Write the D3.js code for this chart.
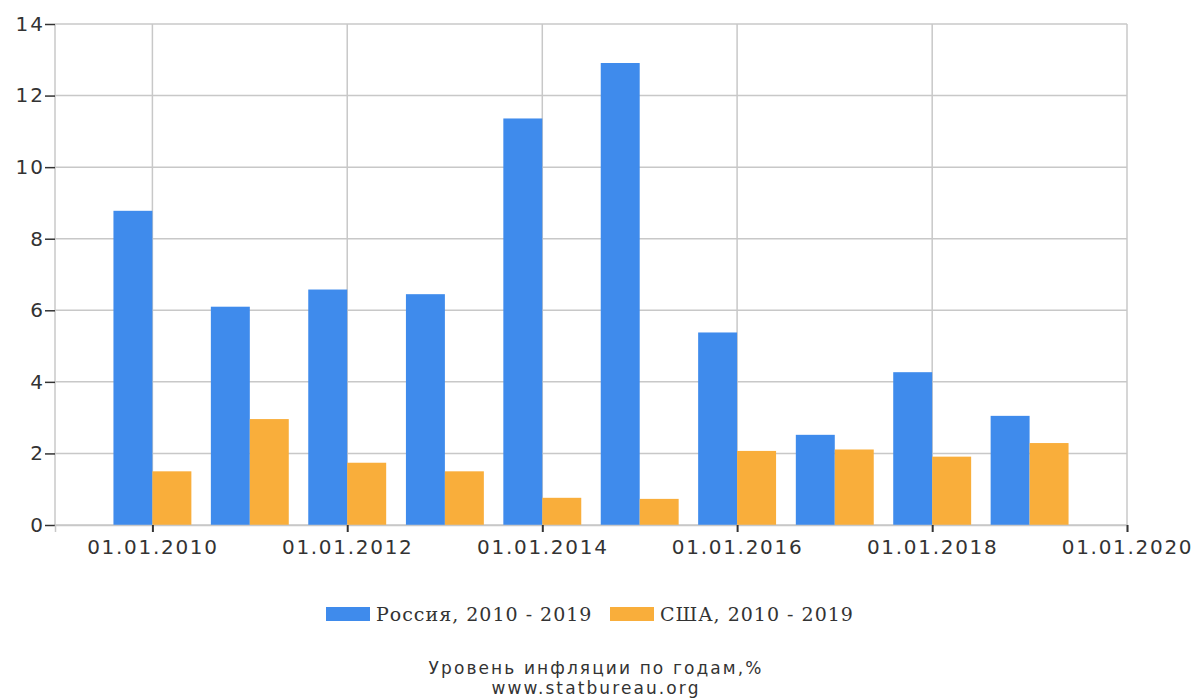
<!DOCTYPE html>
<html>
<head>
<meta charset="utf-8">
<script src="https://cdn.jsdelivr.net/npm/d3@7"></script>
<style>
  body { margin: 0; background: #fff; }
  text { font-family: "DejaVu Sans", sans-serif; fill: #333; }
</style>
</head>
<body>
<svg id="chart" width="1193" height="698"></svg>
<script>
const years = [2010, 2011, 2012, 2013, 2014, 2015, 2016, 2017, 2018, 2019];
const russia = [8.78, 6.10, 6.58, 6.45, 11.36, 12.91, 5.38, 2.52, 4.27, 3.05];
const usa = [1.50, 2.96, 1.74, 1.50, 0.76, 0.73, 2.07, 2.11, 1.91, 2.29];
const yTicks = [0, 2, 4, 6, 8, 10, 12, 14];
const xTickYears = [2010, 2012, 2014, 2016, 2018, 2020];
const seriesNames = ["Россия, 2010 - 2019", "США, 2010 - 2019"];
const colors = ["#3f8bec", "#f9ae3b"];

const svg = d3.select("#chart");
const margin = { top: 24, left: 55, right: 66, bottom: 173 };
const width = +svg.attr("width");
const height = +svg.attr("height");
const innerW = width - margin.left - margin.right;
const innerH = height - margin.top - margin.bottom;

const g = svg.append("g").attr("transform", `translate(${margin.left},${margin.top})`);

const x = d3.scaleTime()
  .domain([new Date(2009, 0, 1), new Date(2020, 0, 1)])
  .range([0, innerW]);
const y = d3.scaleLinear().domain([0, 14]).range([innerH, 0]);

// grid
g.selectAll(".hgrid").data(yTicks).join("line")
  .attr("x1", 0).attr("x2", innerW)
  .attr("y1", d => y(d)).attr("y2", d => y(d))
  .attr("stroke", "#c8c8c8").attr("stroke-width", 1.5);
g.selectAll(".vgrid").data(xTickYears).join("line")
  .attr("x1", d => x(new Date(d, 0, 1))).attr("x2", d => x(new Date(d, 0, 1)))
  .attr("y1", 0).attr("y2", innerH)
  .attr("stroke", "#c8c8c8").attr("stroke-width", 1.5);
g.append("line").attr("x1", 0).attr("x2", 0).attr("y1", 0).attr("y2", innerH)
  .attr("stroke", "#c8c8c8").attr("stroke-width", 1.5);

// bars: Russia left of Jan 1, USA right of it
const barW = x(new Date(2011, 0, 1)) - x(new Date(2010, 0, 1));
const half = barW * 0.4;
const data = years.map((yr, i) => ({ yr, r: russia[i], u: usa[i] }));

g.selectAll(".bar-r").data(data).join("rect")
  .attr("x", d => x(new Date(d.yr, 0, 1)) - half)
  .attr("width", half)
  .attr("y", d => y(d.r))
  .attr("height", d => innerH - y(d.r))
  .attr("fill", colors[0]);
g.selectAll(".bar-u").data(data).join("rect")
  .attr("x", d => x(new Date(d.yr, 0, 1)))
  .attr("width", half)
  .attr("y", d => y(d.u))
  .attr("height", d => innerH - y(d.u))
  .attr("fill", colors[1]);

// axes
const yAxis = g.append("g")
  .call(d3.axisLeft(y).tickValues(yTicks).tickSize(10).tickPadding(0).tickFormat(d3.format("d")));
yAxis.select(".domain").remove();
yAxis.selectAll(".tick line").attr("stroke", "#333").attr("stroke-width", 1.5);
yAxis.selectAll("text").style("font-size", "20px").style("letter-spacing", "2px").attr("fill", "#333");

const xAxis = g.append("g").attr("transform", `translate(0,${innerH})`)
  .call(d3.axisBottom(x).tickValues(xTickYears.map(d => new Date(d, 0, 1)))
    .tickSize(7).tickPadding(8).tickFormat(d3.timeFormat("%d.%m.%Y")));
xAxis.select(".domain").attr("stroke", "#c8c8c8").attr("stroke-width", 1.5);
xAxis.selectAll(".tick line").attr("stroke", "#333").attr("stroke-width", 2);
xAxis.selectAll("text").style("font-size", "20px").style("letter-spacing", "1.7px").attr("fill", "#333");

// legend
const legend = svg.append("g").attr("transform", "translate(326,607)");
const legX = [0, 284];
seriesNames.forEach((name, i) => {
  const lg = legend.append("g").attr("transform", `translate(${legX[i]},0)`);
  lg.append("rect").attr("width", 44).attr("height", 14).attr("fill", colors[i]);
  lg.append("text").attr("x", 50).attr("y", 14)
    .style("font-family", "'DejaVu Serif', serif").style("font-size", "19px")
    .style("letter-spacing", "1px")
    .text(name);
});

// caption
svg.append("text").attr("x", 596).attr("y", 674).attr("text-anchor", "middle")
  .style("font-size", "17px").style("letter-spacing", "2.1px").text("Уровень инфляции по годам,%");
svg.append("text").attr("x", 596).attr("y", 694).attr("text-anchor", "middle")
  .style("font-size", "17px").style("letter-spacing", "2.1px").text("www.statbureau.org");
</script>
</body>
</html>
